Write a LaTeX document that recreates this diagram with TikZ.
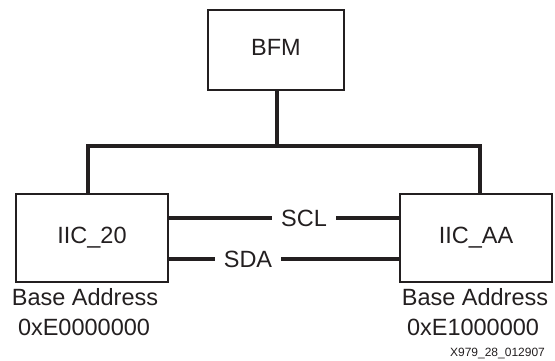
\documentclass[tikz,border=0pt]{standalone}
\usepackage{fontspec}
\setmainfont{Liberation Sans}
\definecolor{ink}{RGB}{35,31,32}
\begin{document}
\begin{tikzpicture}[x=1pt,y=-1pt, every node/.style={text=ink},
  box/.style={draw=ink, line width=2pt, inner sep=0pt, font=\fontsize{23.5}{26}\selectfont, text height=16.8pt, text depth=6pt},
  bus/.style={draw=ink, line width=3.2pt},
  lbl/.style={font=\fontsize{23.5}{26}\selectfont, inner sep=0pt, text height=16.8pt, text depth=0pt},
  sig/.style={font=\fontsize{23.5}{26}\selectfont, inner xsep=9pt, inner ysep=0pt, text height=16.8pt, text depth=0pt},
  tag/.style={font=\fontsize{12}{14}\selectfont, inner sep=0pt, text height=8.6pt, text depth=0pt}]
\useasboundingbox (0,0) rectangle (555,360);
\node[box, minimum width=136pt, minimum height=80pt] (bfm) at (276,50) {BFM};
\node[box, minimum width=152pt, minimum height=88pt] (i20) at (92,238) {IIC\_20};
\node[box, minimum width=152pt, minimum height=88pt] (iaa) at (476,238) {IIC\_AA};
\coordinate (bl) at (88,146);
\coordinate (br) at (480,146);
\draw[bus] (bfm.south -| 277,0) -- (bl -| 277,0);
\draw[bus] (i20.north -| bl) -- (bl) -- (br) -- (iaa.north -| br);
\node[sig] (scl) at (304,218) {SCL};
\node[sig] (sda) at (248,259) {SDA};
\draw[bus] (i20.east |- scl) -- (scl.west);
\draw[bus] (scl.east) -- (iaa.west |- scl);
\draw[bus] (i20.east |- sda) -- (sda.west);
\draw[bus] (sda.east) -- (iaa.west |- sda);
\node[lbl] (ba1) at (85,297) {Base Address};
\node[lbl] (ad1) at (84,327) {0xE0000000};
\node[lbl] (ba2) at (475,297) {Base Address};
\node[lbl] (ad2) at (473,327) {0xE1000000};
\node[tag] (fig) at (497.5,352) {X979\_28\_012907};
\end{tikzpicture}
\end{document}
